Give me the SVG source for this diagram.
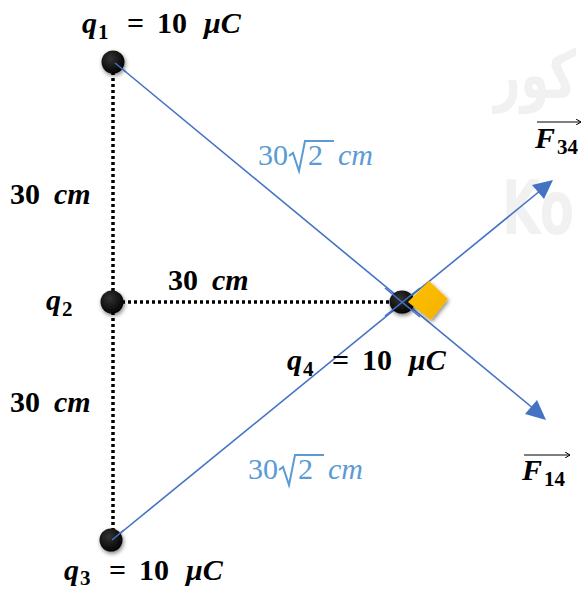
<svg xmlns="http://www.w3.org/2000/svg" width="584" height="591" viewBox="0 0 584 591">
<style>
.lbl{font-family:"Liberation Serif","DejaVu Serif",serif;font-weight:bold;font-style:italic;font-size:30px;fill:#000}
.num{font-style:normal}
.sub{font-style:normal;font-size:21px}
.blue{font-family:"Liberation Serif","DejaVu Serif",serif;font-size:30px;fill:#5B9BD5}
.wm{font-family:"DejaVu Sans",sans-serif;font-weight:bold;fill:#f1f1f1}
.dot{stroke:#000;stroke-width:3.5;stroke-dasharray:3 3;fill:none}
.vec{stroke:#4472C4;stroke-width:1.6;fill:none}
.rad{fill:none;stroke:#5B9BD5;stroke-width:2}
</style>
<defs>
<radialGradient id="ball" cx="0.4" cy="0.35" r="0.7">
<stop offset="0" stop-color="#333"/>
<stop offset="1" stop-color="#000"/>
</radialGradient>
<filter id="sh" x="-50%" y="-50%" width="200%" height="200%">
<feGaussianBlur in="SourceAlpha" stdDeviation="2"/>
<feOffset dx="1" dy="2" result="b"/>
<feComponentTransfer><feFuncA type="linear" slope="0.5"/></feComponentTransfer>
<feMerge><feMergeNode/><feMergeNode in="SourceGraphic"/></feMerge>
</filter>
<linearGradient id="yel" x1="0" y1="0" x2="1" y2="1">
<stop offset="0" stop-color="#FFC000"/>
<stop offset="1" stop-color="#F2B200"/>
</linearGradient>
<marker id="blk" markerWidth="6" markerHeight="6" refX="5" refY="3" orient="auto" markerUnits="userSpaceOnUse">
<path d="M0,0 L5,3 L0,6" fill="none" stroke="#000" stroke-width="1"/>
</marker>
</defs>

<g id="watermark">
<text class="wm" font-size="46" transform="translate(494,98) scale(1,1.45)">كور</text>
<text class="wm" font-size="50" transform="translate(502,234) scale(1,1.5)">Ko</text>
</g>

<g id="connectors">
<path class="dot" d="M113,72 V530"/>
<path class="dot" d="M122,302 H392"/>
<path class="vec" d="M115,63 L540,414"/>
<path class="vec" d="M112,540 L546,186"/>
<path d="M546,420 L525,414 L537,400 z" fill="#4472C4"/>
<path d="M553,180 L532,185 L544,199 z" fill="#4472C4"/>
</g>

<g id="q1">
<circle cx="113" cy="62" r="11.5" fill="url(#ball)" filter="url(#sh)"/>
<line x1="115" y1="63" x2="126" y2="72" stroke="#4472C4" stroke-width="1.6"/>
<text class="lbl" y="33"><tspan x="82">q</tspan><tspan x="98" dy="6" class="sub">1</tspan><tspan x="127" dy="-6" class="num">=</tspan><tspan x="157" class="num">10</tspan><tspan x="204">μC</tspan></text>
</g>
<g id="q2">
<circle cx="112" cy="302" r="11.5" fill="url(#ball)" filter="url(#sh)"/>
<text class="lbl" y="310"><tspan x="46">q</tspan><tspan x="62" dy="6" class="sub">2</tspan></text>
</g>
<g id="q3">
<circle cx="111" cy="540" r="11.5" fill="url(#ball)" filter="url(#sh)"/>
<line x1="112" y1="540" x2="124" y2="530" stroke="#4472C4" stroke-width="1.6"/>
<text class="lbl" y="580"><tspan x="64">q</tspan><tspan x="80" dy="5" class="sub">3</tspan><tspan x="109" dy="-5" class="num">=</tspan><tspan x="139" class="num">10</tspan><tspan x="186">μC</tspan></text>
</g>
<g id="q4">
<ellipse cx="402" cy="302" rx="12.5" ry="11.5" fill="url(#ball)" filter="url(#sh)"/>
<polygon points="408,302 429,281 448,299 431,320" fill="url(#yel)" filter="url(#sh)"/>
<path class="vec" d="M385,288 L420,317 M385,316 L420,288"/>
<text class="lbl" y="370"><tspan x="287">q</tspan><tspan x="303" dy="6" class="sub">4</tspan><tspan x="332" dy="-6" class="num">=</tspan><tspan x="362" class="num">10</tspan><tspan x="409">μC</tspan></text>
</g>

<g id="labels">
<text class="lbl" y="204"><tspan x="10" class="num">30</tspan><tspan x="54">cm</tspan></text>
<text class="lbl" y="290"><tspan x="168" class="num">30</tspan><tspan x="212">cm</tspan></text>
<text class="lbl" y="412"><tspan x="10" class="num">30</tspan><tspan x="54">cm</tspan></text>
<g id="d1">
<text class="blue" x="258" y="165">30</text>
<path class="rad" d="M289,156 L293,153 L299,171 L305,141 L334,141"/>
<text class="blue" x="308" y="165">2</text>
<text class="blue" x="338" y="165" font-style="italic">cm</text>
</g>
<g id="d2">
<text class="blue" x="248" y="479">30</text>
<path class="rad" d="M279,470 L283,467 L289,485 L295,455 L324,455"/>
<text class="blue" x="298" y="479">2</text>
<text class="blue" x="328" y="479" font-style="italic">cm</text>
</g>
<g id="F34">
<line x1="537" y1="122" x2="581" y2="122" stroke="#000" stroke-width="1" marker-end="url(#blk)"/>
<text class="lbl" y="148" font-size="31"><tspan x="535">F</tspan><tspan x="557" dy="6" class="sub">34</tspan></text>
</g>
<g id="F14">
<line x1="524" y1="455" x2="570" y2="455" stroke="#000" stroke-width="1" marker-end="url(#blk)"/>
<text class="lbl" y="480" font-size="31"><tspan x="522">F</tspan><tspan x="544" dy="6" class="sub">14</tspan></text>
</g>
</g>
</svg>
